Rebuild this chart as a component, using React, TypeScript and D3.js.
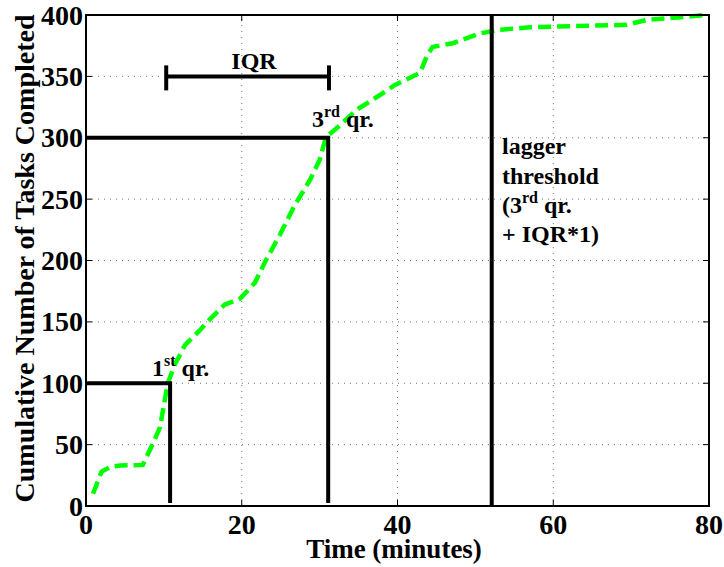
import React from "react";
import * as d3 from "d3";

// cumulative tasks completed over time (minutes)
const timeMin = [0.9, 2.0, 3.2, 4.4, 7.3, 8.6, 9.5, 10.5, 11.4, 12.7, 14.6, 15.9, 17.8, 19.8, 21.7, 23.0, 24.9, 26.8, 28.8, 30.0, 30.7, 31.1, 32.4, 34.8, 37.3, 39.7, 42.9, 43.8, 44.5, 47.1, 50.6, 53.1, 57.0, 69.4, 72.0, 79.7];
const tasksDone = [10, 28, 32, 33, 33.5, 51, 64, 100, 115, 131, 143, 152, 164, 169, 182, 199, 221, 245, 266, 282, 298, 302, 309, 323, 333, 343, 353, 367, 374, 377, 385, 388, 390, 392, 396, 400];

const xTicks = [0, 20, 40, 60, 80];
const yTicks = [0, 50, 100, 150, 200, 250, 300, 350, 400];

const q1 = { t: 10.8, n: 100 };
const q3 = { t: 31.1, n: 300 };
const iqr = { from: 10.3, to: 31.2, n: 350 };
const laggerT = 52.1;

const W = 724;
const H = 567;
const margin = { left: 86, right: 15, top: 15, bottom: 61 };
const font = "'Liberation Serif', 'Times New Roman', serif";

export default function App() {
  const x = d3.scaleLinear().domain([0, 80]).range([margin.left, W - margin.right]);
  const y = d3.scaleLinear().domain([0, 400]).range([H - margin.bottom, margin.top]);
  const pts = timeMin.map((t, i) => [t, tasksDone[i]] as [number, number]);
  const line = d3.line<[number, number]>().x((d) => x(d[0])).y((d) => y(d[1]));
  const x0 = x(0), x1 = x(80), y0 = y(0), y1 = y(400);
  const tick = 6;

  return (
    <svg width={W} height={H} style={{ position: "absolute", left: 0, top: 0, background: "#fff" }} fontFamily={font} fontWeight="bold">
      {/* grid */}
      {xTicks.slice(1, -1).map((t) => (
        <line key={"gx" + t} x1={x(t)} x2={x(t)} y1={y0} y2={y1} stroke="#777" strokeWidth={1} strokeDasharray="1 5" />
      ))}
      {yTicks.slice(1, -1).map((t) => (
        <line key={"gy" + t} x1={x0} x2={x1} y1={y(t)} y2={y(t)} stroke="#777" strokeWidth={1} strokeDasharray="1 5" />
      ))}
      {/* ticks */}
      {xTicks.map((t) => (
        <g key={"tx" + t}>
          <line x1={x(t)} x2={x(t)} y1={y0} y2={y0 - tick} stroke="#000" strokeWidth={1} />
          <line x1={x(t)} x2={x(t)} y1={y1} y2={y1 + tick} stroke="#000" strokeWidth={1} />
          <text x={x(t)} y={y0 + 28} textAnchor="middle" fontSize={28}>{t}</text>
        </g>
      ))}
      {yTicks.map((t) => (
        <g key={"ty" + t}>
          <line x1={x0} x2={x0 + tick} y1={y(t)} y2={y(t)} stroke="#000" strokeWidth={1} />
          <line x1={x1} x2={x1 - tick} y1={y(t)} y2={y(t)} stroke="#000" strokeWidth={1} />
          <text x={x0 - 3} y={y(t)} dy="0.34em" textAnchor="end" fontSize={28}>{t}</text>
        </g>
      ))}
      {/* data curve */}
      <path d={line(pts) || ""} fill="none" stroke="#00ff00" strokeWidth={4.5} strokeDasharray="13 6" />
      {/* quartile markers */}
      <polyline points={`${x0},${y(q1.n)} ${x(q1.t)},${y(q1.n)} ${x(q1.t)},${y(2.5)}`} fill="none" stroke="#000" strokeWidth={4} />
      <polyline points={`${x0},${y(q3.n)} ${x(q3.t)},${y(q3.n)} ${x(q3.t)},${y(2.5)}`} fill="none" stroke="#000" strokeWidth={4} />
      <line x1={x(laggerT)} x2={x(laggerT)} y1={y1} y2={y0} stroke="#000" strokeWidth={4} />
      {/* IQR bar */}
      <line x1={x(iqr.from)} x2={x(iqr.to)} y1={y(iqr.n)} y2={y(iqr.n)} stroke="#000" strokeWidth={4} />
      <line x1={x(iqr.from)} x2={x(iqr.from)} y1={y(iqr.n) - 11} y2={y(iqr.n) + 14} stroke="#000" strokeWidth={4} />
      <line x1={x(iqr.to)} x2={x(iqr.to)} y1={y(iqr.n) - 11} y2={y(iqr.n) + 14} stroke="#000" strokeWidth={4} />
      <text x={254} y={y(iqr.n) - 7} textAnchor="middle" fontSize={24}>IQR</text>
      {/* labels */}
      <g fontSize={24}>
        <text x={152} y={376}>1<tspan dy={-10} fontSize={16}>st</tspan><tspan dy={10}> qr.</tspan></text>
        <text x={312} y={127}>3<tspan dy={-10} fontSize={16}>rd</tspan><tspan dy={10}> qr.</tspan></text>
        <text x={502} y={154}>lagger</text>
        <text x={502} y={184}>threshold</text>
        <text x={502} y={213}>(3<tspan dy={-10} fontSize={16}>rd</tspan><tspan dy={10}> qr.</tspan></text>
        <text x={502} y={242}>+ IQR*1)</text>
      </g>
      {/* frame */}
      <rect x={x0} y={y1} width={x1 - x0} height={y0 - y1} fill="none" stroke="#000" strokeWidth={2} />
      {/* axis titles */}
      <text x={394} y={558} textAnchor="middle" fontSize={27}>Time (minutes)</text>
      <text transform={`translate(34,${(y0 + y1) / 2 - 2}) rotate(-90)`} textAnchor="middle" fontSize={28}>Cumulative Number of Tasks Completed</text>
    </svg>
  );
}
